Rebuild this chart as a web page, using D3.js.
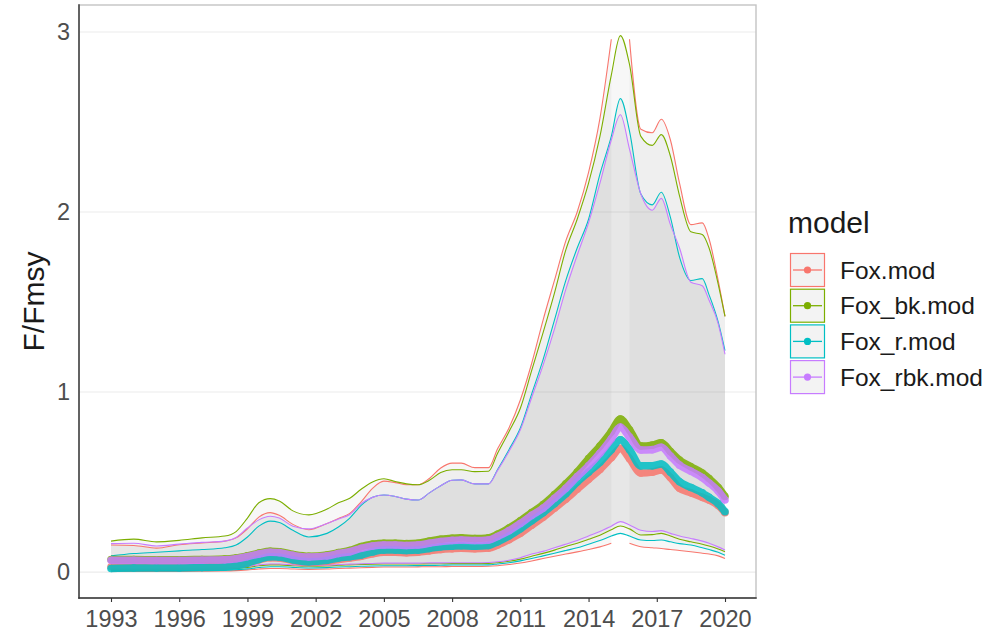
<!DOCTYPE html>
<html>
<head>
<meta charset="utf-8">
<script src="https://cdn.jsdelivr.net/npm/d3@7"></script>
<style>
  html, body { margin: 0; padding: 0; background: #fff; }
  svg { display: block; }
  text { font-family: "Liberation Sans", Arial, Helvetica, sans-serif; }
</style>
</head>
<body>
<svg id="chart" width="1003" height="631"></svg>
<script>
// ---- data ----
const years = [1993,1994,1995,1996,1997,1998,1998.5,1999,1999.5,2000,2000.4,2001,2001.7,2002.5,2003,2003.5,2004,2004.5,2005,2005.5,2006,2006.5,2007,2007.5,2008,2008.4,2009,2009.6,2010,2010.5,2011,2011.5,2012,2012.5,2013,2013.5,2014,2014.5,2015,2015.4,2015.8,2016.3,2016.8,2017.2,2017.6,2018,2018.5,2019,2019.3,2019.7,2020];

const modelNames = ["Fox.mod", "Fox_bk.mod", "Fox_r.mod", "Fox_rbk.mod"];
const modelColors = ["#F8766D", "#7CAE00", "#00BFC4", "#C77CFF"];

const foxLo  = [0.003,0.003,0.004,0.004,0.005,0.006,0.008,0.012,0.017,0.02,0.02,0.017,0.015,0.017,0.02,0.022,0.024,0.026,0.028,0.028,0.028,0.029,0.03,0.03,0.031,0.031,0.031,0.032,0.035,0.042,0.05,0.062,0.075,0.088,0.1,0.112,0.125,0.14,0.16,null,0.16,0.141,0.135,0.131,0.125,0.12,0.113,0.105,0.1,0.09,0.076];
const foxMed = [0.03,0.03,0.03,0.031,0.032,0.034,0.04,0.052,0.068,0.08,0.078,0.064,0.054,0.06,0.07,0.078,0.088,0.102,0.11,0.11,0.108,0.11,0.118,0.126,0.13,0.132,0.13,0.133,0.15,0.18,0.215,0.26,0.305,0.355,0.405,0.46,0.515,0.57,0.635,0.687,0.63,0.55,0.555,0.567,0.525,0.465,0.44,0.415,0.4,0.37,0.33];
const foxHi  = [0.15,0.148,0.133,0.152,0.162,0.172,0.19,0.24,0.305,0.33,0.315,0.265,0.235,0.27,0.298,0.326,0.39,0.465,0.505,0.497,0.485,0.485,0.52,0.578,0.605,0.605,0.58,0.58,0.685,0.8,0.956,1.16,1.4,1.62,1.84,2.0,2.22,2.52,2.96,null,2.96,2.46,2.44,2.515,2.4,2.16,1.93,1.94,1.85,1.62,1.42];

const bkLo  = [0.015,0.015,0.015,0.016,0.016,0.017,0.02,0.026,0.035,0.04,0.04,0.035,0.032,0.034,0.038,0.04,0.042,0.044,0.045,0.045,0.045,0.045,0.046,0.046,0.047,0.047,0.047,0.048,0.052,0.06,0.072,0.088,0.104,0.122,0.142,0.16,0.182,0.205,0.235,0.256,0.24,0.206,0.208,0.215,0.2,0.182,0.168,0.155,0.145,0.128,0.113];
const bkMed = [0.07,0.07,0.068,0.068,0.07,0.072,0.078,0.09,0.105,0.115,0.113,0.098,0.088,0.095,0.108,0.12,0.142,0.155,0.16,0.16,0.158,0.16,0.172,0.182,0.188,0.19,0.186,0.19,0.21,0.245,0.285,0.33,0.375,0.43,0.49,0.555,0.63,0.7,0.78,0.85,0.79,0.7,0.705,0.718,0.67,0.622,0.585,0.55,0.52,0.47,0.42];
const bkHi  = [0.172,0.183,0.168,0.176,0.19,0.2,0.225,0.3,0.385,0.408,0.395,0.34,0.318,0.35,0.385,0.41,0.46,0.5,0.518,0.503,0.49,0.485,0.51,0.553,0.568,0.568,0.558,0.56,0.66,0.78,0.91,1.12,1.33,1.55,1.79,1.96,2.16,2.42,2.76,2.98,2.82,2.42,2.37,2.43,2.31,2.09,1.89,1.875,1.8,1.6,1.42];

const rLo  = [0.008,0.008,0.009,0.009,0.01,0.011,0.013,0.018,0.025,0.03,0.03,0.026,0.023,0.025,0.028,0.03,0.032,0.034,0.035,0.035,0.035,0.036,0.037,0.038,0.039,0.039,0.039,0.04,0.045,0.052,0.062,0.075,0.09,0.105,0.12,0.135,0.155,0.175,0.2,0.215,0.2,0.178,0.175,0.178,0.168,0.158,0.15,0.135,0.125,0.11,0.094];
const rMed = [0.02,0.022,0.022,0.023,0.025,0.028,0.035,0.05,0.07,0.085,0.083,0.068,0.057,0.065,0.078,0.085,0.095,0.112,0.122,0.122,0.12,0.122,0.131,0.14,0.144,0.146,0.144,0.148,0.168,0.2,0.24,0.285,0.33,0.38,0.435,0.5,0.555,0.61,0.68,0.735,0.68,0.59,0.59,0.6,0.555,0.502,0.47,0.44,0.415,0.38,0.335];
const rHi  = [0.09,0.103,0.11,0.118,0.125,0.135,0.15,0.195,0.255,0.283,0.275,0.232,0.195,0.215,0.25,0.3,0.37,0.415,0.428,0.42,0.405,0.4,0.44,0.48,0.51,0.512,0.49,0.49,0.57,0.68,0.8,0.99,1.18,1.4,1.62,1.8,1.96,2.21,2.42,2.63,2.45,2.1,2.04,2.11,1.97,1.75,1.62,1.63,1.54,1.39,1.23];

const rbkLo  = [0.02,0.02,0.02,0.021,0.021,0.022,0.025,0.031,0.04,0.045,0.045,0.04,0.036,0.038,0.042,0.044,0.046,0.048,0.05,0.05,0.05,0.05,0.051,0.051,0.052,0.052,0.052,0.053,0.057,0.066,0.08,0.1,0.115,0.135,0.155,0.175,0.2,0.225,0.255,0.28,0.262,0.232,0.225,0.23,0.215,0.2,0.187,0.172,0.16,0.14,0.122];
const rbkMed = [0.066,0.066,0.064,0.064,0.066,0.068,0.074,0.086,0.1,0.11,0.108,0.093,0.084,0.09,0.103,0.113,0.132,0.145,0.15,0.15,0.148,0.15,0.16,0.17,0.176,0.178,0.175,0.178,0.198,0.23,0.27,0.315,0.355,0.41,0.465,0.53,0.59,0.66,0.74,0.805,0.75,0.678,0.68,0.693,0.645,0.594,0.56,0.525,0.495,0.45,0.4];
const rbkHi  = [0.158,0.16,0.145,0.155,0.165,0.172,0.192,0.245,0.29,0.31,0.3,0.255,0.24,0.27,0.295,0.32,0.38,0.415,0.428,0.42,0.405,0.4,0.44,0.48,0.51,0.512,0.49,0.49,0.565,0.67,0.79,0.97,1.15,1.35,1.57,1.76,1.94,2.16,2.4,2.54,2.35,2.1,2.01,2.076,1.93,1.8,1.61,1.59,1.51,1.38,1.21];

const xTicks = [1993,1996,1999,2002,2005,2008,2011,2014,2017,2020];
const yTicks = [0,1,2,3];

// ---- build series ----
const los  = [foxLo, bkLo, rLo, rbkLo];
const meds = [foxMed, bkMed, rMed, rbkMed];
const his  = [foxHi, bkHi, rHi, rbkHi];
const models = modelNames.map((name, i) => ({
  name, color: modelColors[i],
  rows: years.map((yr, j) => ({ yr, lo: los[i][j], med: meds[i][j], hi: his[i][j] }))
}));

// ---- layout ----
const svg = d3.select("#chart");
const P = { left: 79, right: 756, top: 5, bottom: 598 };

const x = d3.scaleLinear().domain([1991.593, 2021.363]).range([P.left, P.right]);
const y = d3.scaleLinear().domain([-0.144, 3.15]).range([P.bottom, P.top]);

svg.append("defs").append("clipPath").attr("id", "panel")
  .append("rect").attr("x", P.left).attr("y", P.top)
  .attr("width", P.right - P.left).attr("height", P.bottom - P.top);

// grid lines
svg.append("g").selectAll("line").data(yTicks).join("line")
  .attr("x1", P.left).attr("x2", P.right)
  .attr("y1", d => y(d)).attr("y2", d => y(d))
  .attr("stroke", "#ebebeb").attr("stroke-width", 1.1);

const plot = svg.append("g").attr("clip-path", "url(#panel)");

// ribbons
const area = d3.area()
  .defined(d => d.lo != null && d.hi != null)
  .x(d => x(d.yr)).y0(d => y(d.lo)).y1(d => y(d.hi))
  .curve(d3.curveMonotoneX);
plot.append("g").selectAll("path").data(models).join("path")
  .attr("d", m => area(m.rows))
  .attr("fill", "#333333").attr("fill-opacity", 0.038);

// bound lines
const lineLo = d3.line().defined(d => d.lo != null).x(d => x(d.yr)).y(d => y(d.lo)).curve(d3.curveMonotoneX);
const lineHi = d3.line().defined(d => d.hi != null).x(d => x(d.yr)).y(d => y(d.hi)).curve(d3.curveMonotoneX);
const bounds = plot.append("g");
models.forEach(m => {
  bounds.append("path").attr("d", lineLo(m.rows)).attr("fill", "none")
    .attr("stroke", m.color).attr("stroke-width", 1.1);
  bounds.append("path").attr("d", lineHi(m.rows)).attr("fill", "none")
    .attr("stroke", m.color).attr("stroke-width", 1.1);
});

// medians (line + points)
const lineMed = d3.line().x(d => x(d.yr)).y(d => y(d.med)).curve(d3.curveMonotoneX);
const meds_g = plot.append("g");
models.forEach(m => {
  const g = meds_g.append("g").attr("opacity", 0.85);
  g.append("path").attr("d", lineMed(m.rows)).attr("fill", "none")
    .attr("stroke", m.color).attr("stroke-width", 7.5).attr("stroke-linejoin", "round");
  g.selectAll("circle").data(m.rows).join("circle")
    .attr("cx", d => x(d.yr)).attr("cy", d => y(d.med)).attr("r", 3.8)
    .attr("fill", m.color);
});

// panel border (light) and axis lines (dark)
svg.append("rect").attr("x", P.left).attr("y", P.top)
  .attr("width", P.right - P.left).attr("height", P.bottom - P.top)
  .attr("fill", "none").attr("stroke", "#c4c4c4").attr("stroke-width", 1.4);

// x axis
const xAxis = svg.append("g").attr("transform", `translate(0,${P.bottom})`)
  .call(d3.axisBottom(x).tickValues(xTicks).tickFormat(d3.format("d")).tickSize(4).tickPadding(8));
xAxis.select(".domain").remove();
xAxis.selectAll(".tick line").attr("stroke", "#333").attr("stroke-width", 1.1);
xAxis.selectAll(".tick text").attr("fill", "#4d4d4d").attr("font-size", 23.5);

// y axis
const yAxis = svg.append("g").attr("transform", `translate(${P.left},0)`)
  .call(d3.axisLeft(y).tickValues(yTicks).tickFormat(d3.format("d")).tickSize(0).tickPadding(9));
yAxis.select(".domain").remove();
yAxis.selectAll(".tick text").attr("fill", "#4d4d4d").attr("font-size", 23.5);

svg.append("line").attr("x1", P.left).attr("x2", P.left).attr("y1", P.top - 0.7).attr("y2", P.bottom + 0.7)
  .attr("stroke", "#333").attr("stroke-width", 1.4);
svg.append("line").attr("x1", P.left - 0.7).attr("x2", P.right + 0.7).attr("y1", P.bottom).attr("y2", P.bottom)
  .attr("stroke", "#333").attr("stroke-width", 1.4);

// y title
svg.append("text").attr("transform", `translate(44,${(P.top + P.bottom) / 2}) rotate(-90)`)
  .attr("text-anchor", "middle").attr("font-size", 30).attr("fill", "#1a1a1a").text("F/Fmsy");

// legend
const lg = svg.append("g");
lg.append("text").attr("x", 788).attr("y", 233).attr("font-size", 30).attr("fill", "#1a1a1a").text("model");
const keyX = 790, keyTop = 253, keyStep = 35.7, keyW = 35, keyH = 34;
models.forEach((m, i) => {
  const ky = keyTop + i * keyStep;
  lg.append("rect").attr("x", keyX + 0.5).attr("y", ky + 0.5).attr("width", keyW - 1).attr("height", keyH - 1)
    .attr("fill", "#f3f3f3").attr("stroke", m.color).attr("stroke-width", 1.2);
  lg.append("line").attr("x1", keyX + 3).attr("x2", keyX + keyW - 3)
    .attr("y1", ky + keyH / 2).attr("y2", ky + keyH / 2)
    .attr("stroke", m.color).attr("stroke-width", 1.3);
  lg.append("circle").attr("cx", keyX + keyW / 2).attr("cy", ky + keyH / 2).attr("r", 3.6).attr("fill", m.color);
  lg.append("text").attr("x", 840).attr("y", ky + keyH / 2).attr("dy", "0.35em")
    .attr("font-size", 24.5).attr("fill", "#1a1a1a").text(m.name);
});
</script>
</body>
</html>
